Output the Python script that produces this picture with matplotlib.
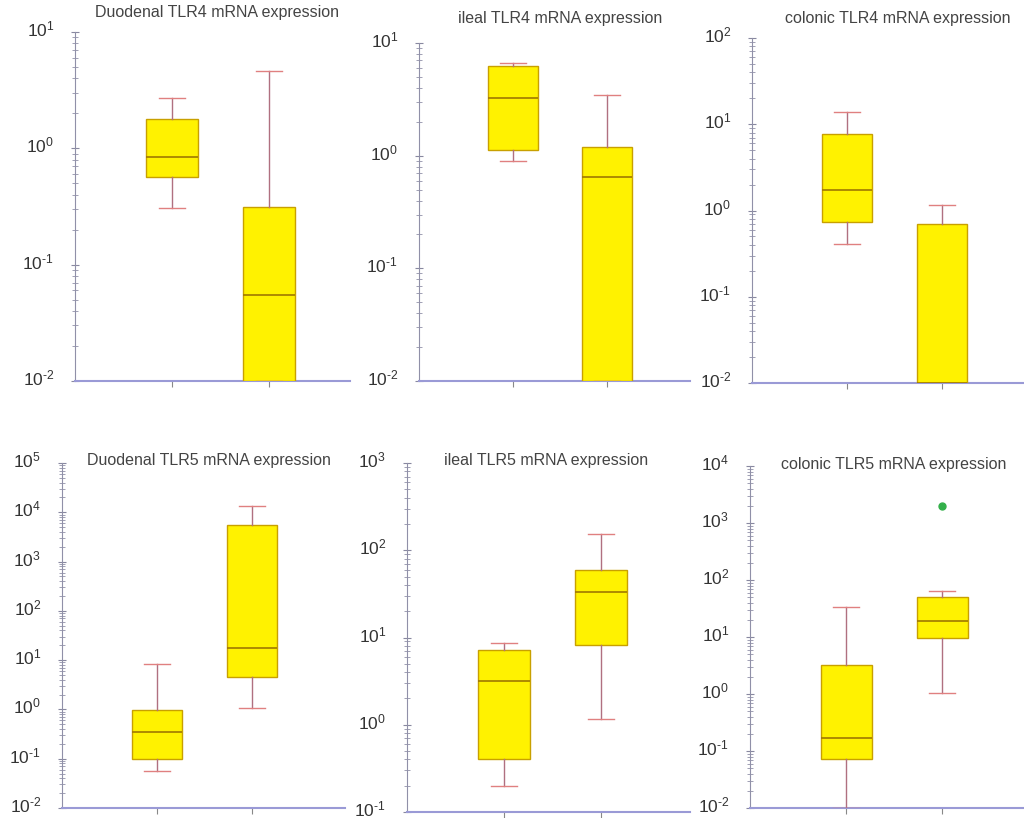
import matplotlib
matplotlib.use('Agg')
import matplotlib.pyplot as plt
import matplotlib.transforms as mtransforms
from matplotlib.ticker import LogLocator, FixedLocator, NullFormatter

plt.rcParams['font.family'] = ['Liberation Sans', 'DejaVu Sans']
plt.rcParams['mathtext.fontset'] = 'custom'
plt.rcParams['mathtext.rm'] = 'Liberation Sans'

W, H = 1024, 818

titles = ['Duodenal TLR4 mRNA expression', 'ileal TLR4 mRNA expression',
          'colonic TLR4 mRNA expression', 'Duodenal TLR5 mRNA expression',
          'ileal TLR5 mRNA expression', 'colonic TLR5 mRNA expression']

# box stats per panel: [group1, group2] as (whislo, q1, med, q3, whishi)
duo_tlr4 = [(0.305, 0.57, 0.85, 1.78, 2.7), (0.01, 0.01, 0.0545, 0.315, 4.6)]
ile_tlr4 = [(0.89, 1.12, 3.24, 6.2, 6.7), (0.01, 0.01, 0.65, 1.19, 3.45)]
col_tlr4 = [(0.41, 0.74, 1.73, 7.8, 13.9), (0.01, 0.01, 0.01, 0.69, 1.17)]
duo_tlr5 = [(0.056, 0.097, 0.35, 0.97, 8.2), (1.07, 4.6, 18, 5500, 13200)]
ile_tlr5 = [(0.20, 0.40, 3.17, 7.2, 8.7), (1.17, 8.2, 33, 59, 155)]
col_tlr5 = [(0.01, 0.071, 0.17, 3.2, 33), (1.05, 9.5, 19, 50, 65)]
col_tlr5_outliers = [[], [2000]]

panels = [duo_tlr4, ile_tlr4, col_tlr4, duo_tlr5, ile_tlr5, col_tlr5]
fliers = [[[], []]] * 5 + [col_tlr5_outliers]
yranges = [(-2, 1), (-2, 1), (-2, 2), (-2, 5), (-1, 3), (-2, 4)]

# pixel layout: (left, right, top, bottom, xmax)
layout = [(75, 350, 32, 381, 2.835), (419, 690, 43, 381, 2.88),
          (752, 1024, 38, 383, 2.86), (62, 345, 463, 808, 2.98),
          (407, 690, 463, 812, 2.92), (750, 1024, 466, 808, 2.85)]
title_pos = [(217, 12), (560, 18), (898, 18), (209, 460), (546, 461), (894, 465)]

fig = plt.figure(figsize=(W / 100, H / 100), dpi=100)
lift = mtransforms.ScaledTranslation(0, 4 / 100, fig.dpi_scale_trans)


def label(d):
    sign = '\u2010' if d < 0 else ''
    return r'$\mathregular{10^{%s%d}}$' % (sign, abs(d))


for i in range(6):
    l, r, t, b, xmax = layout[i]
    ax = fig.add_axes([l / W, 1 - b / H, (r - l) / W, (b - t) / H])
    ax.set_yscale('log')
    lo, hi = yranges[i]
    stats = []
    for k, s in enumerate(panels[i]):
        stats.append(dict(whislo=s[0], q1=s[1], med=s[2], q3=s[3], whishi=s[4],
                          fliers=fliers[i][k]))
    ax.bxp(stats, positions=[1, 2], widths=0.53, patch_artist=True,
           boxprops=dict(facecolor='#fff200', edgecolor='#c8a000', linewidth=1),
           medianprops=dict(color='#a07800', linewidth=1.2),
           whiskerprops=dict(color='#b07080', linewidth=1),
           capprops=dict(color='#e08080', linewidth=1),
           capwidths=0.27,
           flierprops=dict(marker='o', markerfacecolor='#33b04a',
                           markeredgecolor='#33b04a', markersize=5),
           zorder=3)
    ax.set_xlim(0, xmax)
    ax.set_ylim(10 ** lo, 10 ** hi)
    ax.set_xticks([1, 2])
    ax.set_xticklabels([])
    decades = list(range(lo, hi + 1))
    ax.yaxis.set_major_locator(FixedLocator([10.0 ** d for d in decades]))
    ax.set_yticklabels([label(d) for d in decades])
    ax.yaxis.set_minor_locator(LogLocator(base=10, subs=range(2, 10), numticks=20))
    ax.yaxis.set_minor_formatter(NullFormatter())
    ax.tick_params(axis='y', which='major', direction='inout', length=6,
                   color='#8888a0', labelsize=12.5, labelcolor='#333333', pad=12)
    ax.tick_params(axis='y', which='minor', direction='inout', length=4,
                   color='#9090a8')
    ax.tick_params(axis='x', direction='out', length=4, color='#888888')
    for lab in ax.get_yticklabels():
        lab.set_transform(lab.get_transform() + lift)
    for s in ['top', 'right']:
        ax.spines[s].set_visible(False)
    ax.spines['left'].set_color('#9090a8')
    ax.spines['bottom'].set_color('#9a9ad6')
    ax.spines['bottom'].set_linewidth(1.5)
    ax.patch.set_alpha(0)
    tx, ty = title_pos[i]
    fig.text(tx / W, 1 - ty / H, titles[i], ha='center', va='center',
             fontsize=11.5, color='#444444')

fig.savefig('out.png', dpi=100)
plt.close(fig)
